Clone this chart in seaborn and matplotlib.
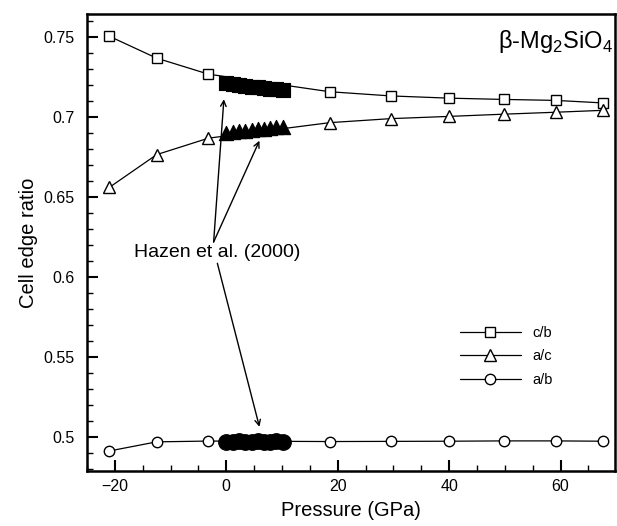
import numpy as np
import pandas as pd
import matplotlib
matplotlib.use("Agg")
import matplotlib.pyplot as plt
from matplotlib.ticker import MultipleLocator, FormatStrFormatter
import seaborn as sns

# calculated cell edge ratios (open symbols)
pressure = [-21.0, -12.5, -3.2, 18.6, 29.5, 40.0, 49.9, 59.1, 67.7]
c_over_b = [0.7505, 0.7368, 0.7268, 0.7158, 0.7132, 0.7118, 0.7110, 0.7104, 0.7088]
a_over_c = [0.6560, 0.6765, 0.6868, 0.6965, 0.6990, 0.7004, 0.7018, 0.7030, 0.7042]
a_over_b = [0.4913, 0.4970, 0.4975, 0.4972, 0.4973, 0.4974, 0.4976, 0.4976, 0.4974]

# Hazen et al. (2000) experimental data (filled symbols)
p_hazen = [0.0, 1.2, 2.3, 3.4, 4.6, 5.7, 6.8, 7.9, 9.0, 10.1]
cb_hazen = [0.7212, 0.7206, 0.7200, 0.7195, 0.7190, 0.7185, 0.7180, 0.7177, 0.7173, 0.7170]
ac_hazen = [0.6902, 0.6906, 0.6911, 0.6915, 0.6920, 0.6924, 0.6928, 0.6932, 0.6936, 0.6940]
ab_hazen = [0.4972, 0.4972, 0.4973, 0.4972, 0.4972, 0.4973, 0.4972, 0.4972, 0.4973, 0.4972]

sns.set_style("ticks")
plt.rcParams["font.family"] = ["Liberation Sans", "DejaVu Sans"]
plt.rcParams["mathtext.fontset"] = "custom"
plt.rcParams["mathtext.rm"] = "Liberation Sans"
for k in ["text.color", "axes.labelcolor", "xtick.color", "ytick.color", "axes.edgecolor"]:
    plt.rcParams[k] = "black"
plt.rcParams["xtick.direction"] = "in"
plt.rcParams["ytick.direction"] = "in"

fig = plt.figure(figsize=(6.17, 5.26), dpi=100)
ax = fig.add_axes([0.141, 0.1046, 0.856, 0.8688])

calc = pd.DataFrame({"P": pressure, "c/b": c_over_b, "a/c": a_over_c, "a/b": a_over_b})
exp = pd.DataFrame({"P": p_hazen, "c/b": cb_hazen, "a/c": ac_hazen, "a/b": ab_hazen})

markers = {"c/b": "s", "a/c": "^", "a/b": "o"}
for col, m in markers.items():
    sns.lineplot(data=calc, x="P", y=col, ax=ax, color="black", lw=0.9,
                 marker=m, markersize=8 if m == "^" else 7.5,
                 markerfacecolor="white", markeredgecolor="black",
                 markeredgewidth=1.0, label=col, zorder=3)
for col, m in markers.items():
    sns.scatterplot(data=exp, x="P", y=col, ax=ax, marker=m, color="black",
                    edgecolor="black", s=125 if m == "o" else 105,
                    zorder=4, legend=False)

ax.set_xlim(-25, 69.8)
ax.set_ylim(0.4788, 0.7644)
ax.xaxis.set_major_locator(MultipleLocator(20))
ax.xaxis.set_minor_locator(MultipleLocator(5))
ax.yaxis.set_major_locator(MultipleLocator(0.05))
ax.yaxis.set_minor_locator(MultipleLocator(0.01))
ax.yaxis.set_major_formatter(FormatStrFormatter("%g"))
ax.tick_params(which="major", direction="in", length=8, width=1.5,
               labelsize=11.5, pad=6, top=False, right=False)
ax.tick_params(which="minor", direction="in", length=4, width=1.0,
               top=False, right=False)
ax.tick_params(axis="y", which="major", pad=9)
for s in ax.spines.values():
    s.set_linewidth(1.8)

ax.set_xlabel("Pressure (GPa)", fontsize=14.5, labelpad=5)
ax.set_ylabel("Cell edge ratio", fontsize=14.5, labelpad=4)

ax.text(0.995, 0.94, r"β-Mg$_2$SiO$_4$", transform=ax.transAxes,
        ha="right", va="center", fontsize=17)

ax.text(-1.6, 0.6156, "Hazen et al. (2000)", ha="center", va="center",
        fontsize=14)
arrow = dict(arrowstyle="->", color="black", lw=1.0, shrinkA=0, shrinkB=0)
ax.annotate("", xy=(-0.43, 0.7111), xytext=(-2.27, 0.6219), arrowprops=arrow)
ax.annotate("", xy=(5.95, 0.6852), xytext=(-2.27, 0.6219), arrowprops=arrow)
ax.annotate("", xy=(5.95, 0.5064), xytext=(-1.6, 0.6086), arrowprops=arrow)

handles, labels = ax.get_legend_handles_labels()
ax.legend(handles, labels, loc="upper left", bbox_to_anchor=(0.706, 0.318),
          frameon=False, fontsize=10.5, handlelength=4.2, labelspacing=0.65,
          borderaxespad=0, borderpad=0, handletextpad=0.8)

fig.savefig("out.png", dpi=100)
